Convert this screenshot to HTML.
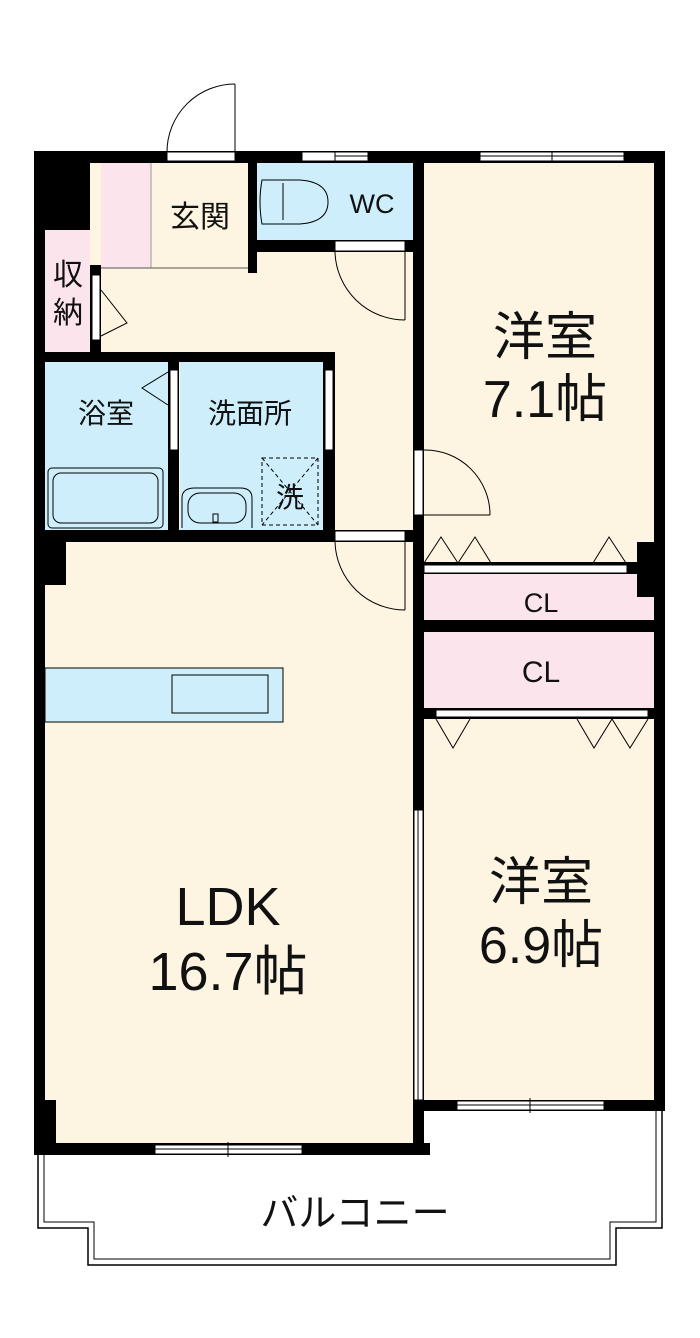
<!DOCTYPE html>
<html><head><meta charset="utf-8"><style>
html,body{margin:0;padding:0;background:#fff}
svg{display:block}
text{font-family:"Liberation Sans","Noto Sans CJK JP",sans-serif;fill:#111}
</style></head><body>
<svg width="700" height="1338" viewBox="0 0 700 1338" xmlns="http://www.w3.org/2000/svg">
<!-- floors -->
<rect x="45" y="160" width="370" height="990" fill="#fdf5e1"/>
<rect x="424" y="160" width="235" height="945" fill="#fdf5e1"/>
<rect x="101" y="163" width="50" height="105" fill="#fce4ec"/>
<rect x="45" y="230" width="45" height="122" fill="#fce4ec"/>
<rect x="257" y="163" width="156" height="79" fill="#cdeefa"/>
<rect x="45" y="362" width="125" height="168" fill="#cdeefa"/>
<rect x="180" y="362" width="145" height="168" fill="#cdeefa"/>
<rect x="424" y="573" width="235" height="47" fill="#fce4ec"/>
<rect x="424" y="632" width="235" height="78" fill="#fce4ec"/>
<line x1="151" y1="163" x2="151" y2="268" stroke="#999" stroke-width="1"/>
<line x1="101" y1="268" x2="248" y2="268" stroke="#555" stroke-width="1"/>
<!-- walls -->
<g fill="#000">
<rect x="34" y="151" width="630" height="12"/>
<rect x="34" y="151" width="56" height="79"/>
<rect x="34" y="151" width="11" height="1004"/>
<rect x="654" y="151" width="11" height="960"/>
<rect x="413" y="151" width="11" height="1004"/>
<rect x="248" y="151" width="9" height="122"/>
<rect x="257" y="240" width="156" height="12"/>
<rect x="90" y="265" width="11" height="90"/>
<rect x="34" y="352" width="301" height="10"/>
<rect x="168" y="352" width="11" height="180"/>
<rect x="323" y="352" width="12" height="180"/>
<rect x="34" y="530" width="380" height="12"/>
<rect x="34" y="540" width="32" height="45"/>
<rect x="637" y="542" width="28" height="55"/>
<rect x="424" y="562" width="240" height="12"/>
<rect x="424" y="620" width="240" height="12"/>
<rect x="424" y="708" width="240" height="11"/>
<rect x="424" y="1100" width="241" height="11"/>
<rect x="34" y="1100" width="22" height="55"/>
<rect x="34" y="1143" width="396" height="12"/>
</g>
<!-- openings / windows -->
<g fill="#fff" stroke="#000" stroke-width="1">
<rect x="167" y="152" width="68" height="9"/>
<rect x="302" y="152" width="66" height="9"/>
<rect x="480" y="152" width="144" height="9"/>
<rect x="335" y="241" width="70" height="10"/>
<rect x="92" y="275" width="8" height="65"/>
<rect x="170" y="370" width="8" height="80"/>
<rect x="325" y="370" width="8" height="80"/>
<rect x="335" y="531" width="70" height="10"/>
<rect x="414" y="450" width="9" height="65"/>
<rect x="424" y="565" width="203" height="8"/>
<rect x="436" y="710" width="212" height="7"/>
<rect x="414" y="810" width="9" height="290"/>
<rect x="457" y="1101" width="147" height="9"/>
<rect x="155" y="1145" width="147" height="9"/>
</g>
<g stroke="#000" stroke-width="1" fill="none">
<line x1="335" y1="156" x2="368" y2="156"/><line x1="335" y1="152" x2="335" y2="161"/>
<line x1="480" y1="156" x2="624" y2="156"/><line x1="552" y1="152" x2="552" y2="161"/>
<line x1="457" y1="1105" x2="604" y2="1105"/><line x1="530" y1="1098" x2="530" y2="1113"/>
<line x1="155" y1="1149" x2="302" y2="1149"/><line x1="228" y1="1142" x2="228" y2="1157"/>
<line x1="418" y1="810" x2="418" y2="1100"/>
<!-- doors -->
<line x1="235" y1="84" x2="235" y2="152"/><path d="M167 152 A68 68 0 0 1 235 84"/>
<line x1="405" y1="252" x2="405" y2="320"/><path d="M335 252 A70 70 0 0 0 405 320"/>
<line x1="405" y1="542" x2="405" y2="610"/><path d="M335 542 A70 70 0 0 0 405 610"/>
<line x1="424" y1="515" x2="490" y2="515"/><path d="M424 450 A65 65 0 0 1 490 515"/>
<!-- triangles -->
<path d="M101 290 L127 323 L101 336"/>
<path d="M168 372 L142 388 L168 405"/>
<path d="M424 563 L441 537 L458 563 L475 537 L491 563"/>
<path d="M593 563 L609 537 L626 563"/>
<path d="M436 719 L453 748 L470 719"/>
<path d="M577 719 L594 748 L612 719 L630 748 L648 719"/>
<!-- toilet -->
<path d="M262 180 L300 180 Q328 182 328 202 Q328 222 300 224 L262 224 Q258 202 262 180 Z" fill="#cdeefa"/>
<line x1="283" y1="183" x2="283" y2="220"/>
<!-- bath -->
<rect x="48" y="468" width="115" height="60" rx="4"/>
<rect x="53" y="473" width="105" height="50" rx="8"/>
<!-- basin -->
<path d="M182 528 L182 498 Q182 488 195 488 L240 488 Q252 488 252 498 L252 528"/>
<rect x="188" y="493" width="58" height="30" rx="12"/>
<rect x="213" y="514" width="5" height="8"/>
<!-- washer -->
<rect x="262" y="458" width="56" height="67" stroke-dasharray="4,3"/>
<line x1="262" y1="458" x2="318" y2="525" stroke-dasharray="4,3"/>
<line x1="318" y1="458" x2="262" y2="525" stroke-dasharray="4,3"/>
<!-- kitchen -->
<rect x="45" y="668" width="238" height="54" fill="#cdeefa"/>
<rect x="172" y="675" width="96" height="38" fill="#cdeefa"/>
<!-- balcony -->
<path d="M38 1155 L38 1228 L88 1228 L88 1265 L616 1265 L616 1228 L662 1228 L662 1111" stroke-width="1.5"/>
<path d="M44 1155 L44 1222 L94 1222 L94 1259 L610 1259 L610 1222 L656 1222 L656 1111"/>
</g>
<!-- labels -->
<g text-anchor="middle">
<text x="200" y="227" font-size="30">玄関</text>
<text x="372" y="213" font-size="27">WC</text>
<text x="68" y="285" font-size="30">収</text>
<text x="68" y="323" font-size="30">納</text>
<text x="106" y="423" font-size="28">浴室</text>
<text x="250" y="423" font-size="28">洗面所</text>
<text x="290" y="507" font-size="28">洗</text>
<text x="545" y="355" font-size="52">洋室</text>
<text x="545" y="417" font-size="52">7.1帖</text>
<text x="541" y="612" font-size="27">CL</text>
<text x="541" y="682" font-size="30">CL</text>
<text x="541" y="900" font-size="52">洋室</text>
<text x="541" y="963" font-size="52">6.9帖</text>
<text x="228" y="925" font-size="54">LDK</text>
<text x="228" y="990" font-size="54">16.7帖</text>
<text x="355" y="1226" font-size="38">バルコニー</text>
</g>
</svg>
</body></html>
